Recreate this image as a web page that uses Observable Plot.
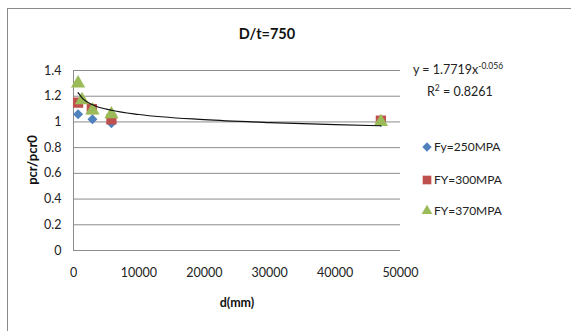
<!DOCTYPE html>
<html><head><meta charset="utf-8">
<script src="https://cdn.jsdelivr.net/npm/d3@7"></script>
<script src="https://cdn.jsdelivr.net/npm/@observablehq/plot@0.6"></script>
<style>
body{margin:0;background:#fff;}
#wrap{position:relative;width:571px;height:331px;overflow:hidden;font-family:Lato,"Open Sans",sans-serif;}
#border{position:absolute;left:7px;top:8px;width:700px;height:500px;border:1px solid #8a8a8a;box-sizing:border-box;}
#chart{position:absolute;left:0;top:0;}
</style></head>
<body><div id="wrap"><div id="border"></div><div id="chart"></div></div>
<script>
const title = "D/t=750";
const xLabel = "d(mm)";
const yLabel = "pcr/pcr0";
const seriesNames = ["Fy=250MPA", "FY=300MPA", "FY=370MPA"];
const seriesColors = ["#4F81BD", "#C0504D", "#9BBB59"];
const seriesSymbols = ["diamond2", "square", "triangle"];
const d250 = [700, 2900, 5800, 47000];
const p250 = [1.06, 1.02, 0.99, 1.00];
const d300 = [700, 2800, 5800, 47000];
const p300 = [1.15, 1.10, 1.02, 1.01];
const d370 = [700, 1300, 2900, 5800, 47000];
const p370 = [1.30, 1.17, 1.09, 1.06, 1.00];
// trendline points
const trendD = [700, 1500, 3000, 6000, 10000, 20000, 30000, 40000, 47000];
const trendP = [1.228, 1.177, 1.132, 1.089, 1.058, 1.018, 0.995, 0.979, 0.970];
const eqMain = "y = 1.7719x";
const eqExp = "-0.056";
const r2Text = "0.8261";
const xTicks = [0, 10000, 20000, 30000, 40000, 50000];
const yTicks = [0, 0.2, 0.4, 0.6, 0.8, 1, 1.2, 1.4];

const mk = (ds, ps, s) => ds.map((d, i) => ({d, p: ps[i], s}));
const pts = [...mk(d250, p250, 0), ...mk(d300, p300, 1), ...mk(d370, p370, 2)];
const trend = trendD.map((d, i) => ({d, p: trendP[i]}));

const W = 571, H = 331, mL = 73, mR = 171, mT = 70, mB = 81;
const grid = "#8c8c8c";
const sizes = [4.5, 5.8, 5.3];

const plot = Plot.plot({
  width: W, height: H, marginLeft: mL, marginRight: mR, marginTop: mT, marginBottom: mB,
  style: {fontFamily: "Lato, 'Open Sans', sans-serif", fontSize: "12.5px", color: "#222", background: "transparent"},
  x: {domain: [0, 50000], ticks: xTicks, tickSize: 0, tickPadding: 18, label: null, tickFormat: d => String(d)},
  y: {domain: [0, 1.4], ticks: yTicks, tickSize: 0, tickPadding: 12, label: null, tickFormat: d => String(d)},
  marks: [
    Plot.ruleY(yTicks, {stroke: grid, strokeWidth: 1}),
    Plot.ruleX([0], {stroke: grid, strokeWidth: 1}),
    Plot.axisX({ticks: xTicks, tickSize: 0, tickPadding: 18, tickFormat: d => String(d), label: null}),
    Plot.axisY({ticks: yTicks, tickSize: 0, tickPadding: 12, tickFormat: d => String(d), label: null}),
    ...[0, 1, 2].map(s => Plot.dot(pts.filter(q => q.s === s), {
      x: "d", y: "p", symbol: () => seriesSymbols[s], r: sizes[s], fill: seriesColors[s], stroke: "none"
    })),
    Plot.line(trend, {x: "d", y: "p", stroke: "#111", strokeWidth: 1.2, curve: "monotone-x"})
  ]
});
document.getElementById("chart").appendChild(plot);

const svg = d3.select(plot);
const font = "Lato, 'Open Sans', sans-serif";
const txt = () => svg.append("text").attr("font-family", font).attr("text-anchor", "start");
txt().attr("x", 267).attr("y", 39).attr("text-anchor", "middle")
  .attr("font-weight", "bold").attr("font-size", 14.5).attr("fill", "#111").text(title);
txt().attr("x", 237).attr("y", 307).attr("text-anchor", "middle")
  .attr("font-weight", "bold").attr("font-size", 12.5).attr("fill", "#111").text(xLabel);
txt().attr("transform", "translate(37,160) rotate(-90)").attr("text-anchor", "middle")
  .attr("font-weight", "bold").attr("font-size", 13).attr("fill", "#111").text(yLabel);

const eq = txt().attr("x", 413).attr("y", 74).attr("font-size", 12.5).attr("fill", "#222");
eq.append("tspan").text(eqMain);
eq.append("tspan").attr("font-size", 8.5).attr("dy", -5).text(eqExp);
const r2 = txt().attr("x", 427).attr("y", 96).attr("font-size", 12.5).attr("fill", "#222");
r2.append("tspan").text("R");
r2.append("tspan").attr("font-size", 8.5).attr("dy", -5).text("2");
r2.append("tspan").attr("dy", 5).text(" = " + r2Text);

const legY = [147, 180, 211];
seriesNames.forEach((n, i) => {
  const sym = d3.symbol().type([d3.symbolDiamond2, d3.symbolSquare, d3.symbolTriangle][i]).size([55, 75, 50][i]);
  svg.append("path").attr("d", sym()).attr("transform", `translate(427,${legY[i]})`).attr("fill", seriesColors[i]);
  txt().attr("x", 434).attr("y", legY[i]).attr("dy", "0.35em")
    .attr("font-size", 12).attr("fill", "#222").text(n);
});
</script></body></html>
